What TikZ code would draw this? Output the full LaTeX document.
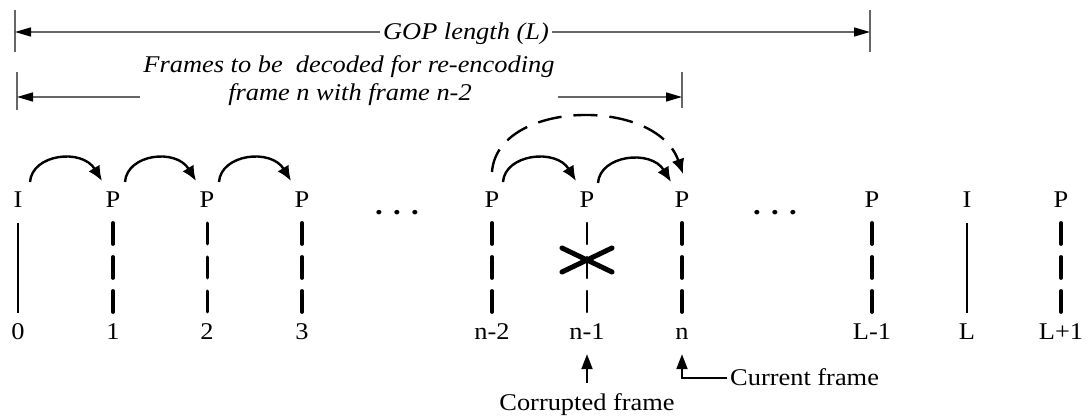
\documentclass[tikz,border=0pt]{standalone}
\usepackage{fontspec}
\setmainfont{Liberation Serif}[FakeStretch=1.1]
\usetikzlibrary{arrows.meta}
\definecolor{dimgray}{gray}{0.4}
\begin{document}
\begin{tikzpicture}[x=1pt,y=-1pt,
  txt/.style={font=\fontsize{24}{28}\selectfont, inner sep=0pt},
  itxt/.style={font=\fontsize{24}{28}\selectfont\itshape, inner sep=0pt},
  tickline/.style={draw=dimgray, line width=1.4pt},
  dimarrow/.style={draw=dimgray, line width=1.4pt, -{Triangle[length=16pt,width=9pt,color=black]}},
  iline/.style={line width=2.5pt},
  pline/.style={line width=3.8pt, line cap=round, dash pattern=on 21pt off 13pt},
  pthin/.style={pline, line width=3pt},
  pvthin/.style={pline, line width=2.2pt},
  arcarrow/.style={line width=2.4pt, -{Latex[length=15pt,width=13pt]}},
  darc/.style={arcarrow, dash pattern=on 24pt off 12pt},
  xmark/.style={line width=5pt, line cap=round},
  barrow/.style={line width=2pt, -{Triangle[length=15pt,width=11pt]}}
]
\useasboundingbox (0,0) rectangle (1088,419);

% frames
\foreach \i/\x/\t/\n/\s in {0/18/I/0/iline, 1/113/P/1/pline, 2/207/P/2/pthin, 3/302/P/3/pline,
  4/492/P/n-2/pline, 5/587/P/n-1/pvthin, 6/682/P/n/pline, 7/872/P/L-1/pline,
  8/967/I/L/iline, 9/1061/P/L+1/pline}{
  \node[txt, anchor=base] (f\i) at (\x,208) {\t};
  \node[txt, anchor=base] (num\i) at (\x,340) {\n};
  \coordinate (top\i) at (\x,223);
  \coordinate (bot\i) at (\x,313);
  \draw[\s] (top\i) -- (bot\i);
}

% ellipses
\node[txt, font=\fontsize{28}{30}\selectfont\bfseries] (dots1) at (397,213) {. . .};
\node[txt, font=\fontsize{28}{30}\selectfont\bfseries] (dots2) at (775,213) {. . .};

% prediction arcs
\coordinate (a0) at (30,182);  \coordinate (b1) at (102,181);
\coordinate (a1) at (125,182); \coordinate (b2) at (196,181);
\coordinate (a2) at (219,182); \coordinate (b3) at (291,181);
\coordinate (a4) at (503,182); \coordinate (b5) at (576,181);
\coordinate (a5) at (598,183); \coordinate (b6) at (671,182);
\draw[arcarrow] (a0) .. controls +(2,-28) and +(-20,-33) .. (b1);
\draw[arcarrow] (a1) .. controls +(2,-28) and +(-20,-33) .. (b2);
\draw[arcarrow] (a2) .. controls +(2,-28) and +(-20,-33) .. (b3);
\draw[arcarrow] (a4) .. controls +(2,-28) and +(-20,-33) .. (b5);
\draw[arcarrow] (a5) .. controls +(2,-28) and +(-20,-33) .. (b6);

% dashed arc n-2 -> n
\coordinate (ds) at (492,172); \coordinate (de) at (683,174);
\draw[darc] (ds) .. controls +(5,-72) and +(-27,-78) .. (de);

% corrupted mark
\coordinate (xc) at (587,260);
\draw[xmark] ([shift={(-25,-12)}]xc) -- ([shift={(25,12)}]xc);
\draw[xmark] ([shift={(-25,12)}]xc) -- ([shift={(25,-12)}]xc);

% GOP length dimension
\coordinate (g1t) at (15,10); \coordinate (g1b) at (15,52);
\coordinate (g2t) at (870,10); \coordinate (g2b) at (870,52);
\coordinate (gl) at (15,32); \coordinate (gr) at (870,32);
\draw[tickline] (g1t) -- (g1b);
\draw[tickline] (g2t) -- (g2b);
\node[itxt, anchor=base, inner xsep=3pt] (gop) at (466,40) {GOP length (L)};
\draw[dimarrow] (gop.west |- gl) -- (gl);
\draw[dimarrow] (gop.east |- gr) -- (gr);

% frames to be decoded dimension
\node[itxt, anchor=base, inner xsep=3pt] (fr1) at (349,73) {Frames to be~ decoded for re-encoding};
\node[itxt, anchor=base] (fr2) at (350,101) {frame n with frame n-2};
\coordinate (h1t) at (17,72); \coordinate (h1b) at (17,110);
\coordinate (h2t) at (682,72); \coordinate (h2b) at (682,108);
\coordinate (hl) at (17,97); \coordinate (hr) at (682,97);
\draw[tickline] (h1t) -- (h1b);
\draw[tickline] (h2t) -- (h2b);
\draw[dimarrow] (fr1.west |- hl) -- (hl);
\draw[dimarrow] (fr1.east |- hr) -- (hr);

% bottom annotations
\node[txt, anchor=base] (corr) at (587,411) {Corrupted frame};
\draw[barrow, shorten <=11pt, shorten >=14pt] (corr.north) -- (num5.south);
\node[txt, anchor=base west] (cur) at (730,386) {Current frame};
\draw[barrow, shorten <=3pt, shorten >=14pt] (cur.west) -| (num6.south);
\end{tikzpicture}
\end{document}
